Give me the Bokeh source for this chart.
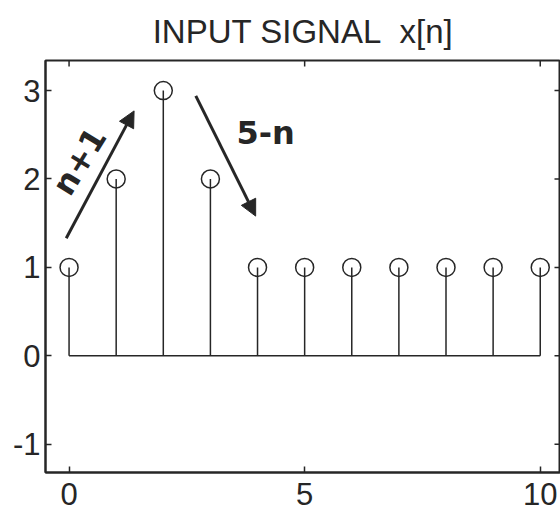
import math
from bokeh.plotting import figure
from bokeh.models import Range1d, FixedTicker, Arrow, NormalHead, Label
from bokeh.embed import file_html
from bokeh.resources import INLINE

# data
n = [0, 1, 2, 3, 4, 5, 6, 7, 8, 9, 10]
x_n = [1, 2, 3, 2, 1, 1, 1, 1, 1, 1, 1]
x_ticks = [0, 5, 10]
y_ticks = [-1, 0, 1, 2, 3]
title_text = "INPUT SIGNAL\u00a0\u00a0x[n]"

# handwritten annotations (data coordinates)
arrow_up = dict(x_start=-0.06, y_start=1.33, x_end=1.38, y_end=2.77)
arrow_down = dict(x_start=2.69, y_start=2.94, x_end=3.96, y_end=1.58)
label_up = dict(text="n+1", x=0.22, y=2.2, angle=1.02)
label_down = dict(text="5-n", x=4.17, y=2.52, angle=0.0)

INK = "#262626"
FONT = "Liberation Sans"

xr = Range1d(-0.5, 10.43)
yr = Range1d(-1.32, 3.34)

p = figure(width=560, height=521, x_range=xr, y_range=yr,
           output_backend="svg", toolbar_location=None,
           min_border_left=45, min_border_right=0, min_border_top=60, min_border_bottom=49,
           background_fill_color="white", border_fill_color="white")

p.title.text = title_text
p.title.align = "center"
p.title.text_font = FONT
p.title.text_font_style = "normal"
p.title.text_font_size = "33px"
p.title.text_color = INK
p.title.standoff = 21

p.xgrid.visible = False
p.ygrid.visible = False
p.outline_line_color = INK
p.outline_line_width = 2

for ax in (p.xaxis[0], p.yaxis[0]):
    ax.axis_line_color = INK
    ax.axis_line_width = 2
    ax.major_tick_in = 6
    ax.major_tick_out = 0
    ax.minor_tick_line_color = None
    ax.major_tick_line_color = INK
    ax.major_tick_line_width = 1.5
    ax.major_label_text_font = FONT
    ax.major_label_text_font_size = "31px"
    ax.major_label_text_color = INK
p.xaxis.ticker = FixedTicker(ticks=x_ticks)
p.yaxis.ticker = FixedTicker(ticks=y_ticks)
p.yaxis.major_label_overrides = {t: str(t) for t in y_ticks}
p.xaxis.major_label_standoff = 10
p.yaxis.major_label_standoff = 5

# inward ticks on top and right edges (clipped to frame)
p.scatter(x=x_ticks, y=[yr.end] * len(x_ticks), marker="dash", size=12, angle=math.pi / 2,
          line_color=INK, line_width=1.5)
p.scatter(x=[xr.end] * len(y_ticks), y=y_ticks, marker="dash", size=12,
          line_color=INK, line_width=1.5)

# baseline
p.line(x=n, y=[0] * len(n), line_color=INK, line_width=1.5)
# stems
p.segment(x0=n, y0=[0] * len(n), x1=n, y1=x_n, line_color=INK, line_width=1.5)
p.scatter(x=n, y=x_n, marker="circle", size=18, fill_color=None, line_color=INK, line_width=1.5)

# handwritten annotations
for a in (arrow_up, arrow_down):
    p.add_layout(Arrow(end=NormalHead(size=16, fill_color=INK, line_color=INK),
                       line_color=INK, line_width=3, **a))
for lb in (label_up, label_down):
    p.add_layout(Label(x=lb["x"], y=lb["y"], text=lb["text"], angle=lb["angle"],
                       text_align="center", text_baseline="middle",
                       text_font="DejaVu Sans", text_font_style="bold",
                       text_font_size="32px", text_color=INK))

open("out.html", "w").write(file_html(p, INLINE))
